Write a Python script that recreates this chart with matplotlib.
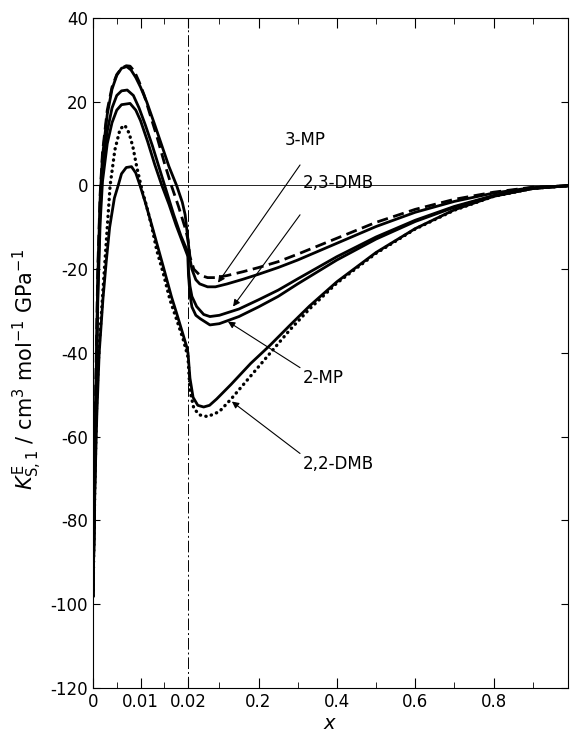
import numpy as np
import matplotlib
matplotlib.use("Agg")
import matplotlib.pyplot as plt
from matplotlib.ticker import FixedLocator, FixedFormatter

# piecewise x axis: 0..0.02 stretched, 0.02..1 compressed
BREAK = 0.02
LEFT_W = 95.0
RIGHT_K = 391.8


def fwd(x):
    x = np.asarray(x, dtype=float)
    return np.where(x <= BREAK, x / BREAK * LEFT_W, LEFT_W + (x - BREAK) * RIGHT_K)


def inv(u):
    u = np.asarray(u, dtype=float)
    return np.where(u <= LEFT_W, u / LEFT_W * BREAK, BREAK + (u - LEFT_W) / RIGHT_K)


# curves
x_3mp = [0, 0.0003, 0.0006, 0.001, 0.0015, 0.002, 0.003, 0.004, 0.005, 0.006, 0.007, 0.0078,
         0.0087, 0.0097, 0.0108, 0.012, 0.0135, 0.015, 0.0165, 0.018, 0.0195, 0.02,
         0.025, 0.035, 0.05, 0.07, 0.09, 0.12, 0.16, 0.2, 0.25, 0.3, 0.4, 0.5, 0.6, 0.7, 0.8, 0.9, 1.0]
y_3mp = [-98, -72, -46, -20, -2, 8, 18, 23.5, 26.5, 28, 28.6, 28.5,
         27.3, 24.8, 21.5, 17, 11.5, 5.5, 0, -5, -10.5, -13,
         -17, -20, -21.4, -22, -22, -21.5, -20.6, -19.6, -18.2, -16.4, -12.6, -8.8, -5.7, -3.3, -1.6, -0.4, 0]

x_s1 = [0, 0.0003, 0.0006, 0.001, 0.0015, 0.002, 0.003, 0.004, 0.005, 0.006, 0.0071,
        0.008, 0.009, 0.010, 0.0113, 0.013, 0.0145, 0.016, 0.0176, 0.0188, 0.0194, 0.02,
        0.025, 0.03, 0.04, 0.05, 0.07, 0.09, 0.12, 0.16, 0.2, 0.25, 0.3, 0.4, 0.5, 0.6, 0.7, 0.8, 0.9, 1.0]
y_s1 = [-98, -75, -50, -22, -3, 7, 17, 23, 26.3, 28, 28.4,
        27.6, 25.8, 23.5, 20, 14.5, 9.5, 4.5, 0, -4, -7, -13,
        -17.5, -20, -22.5, -23.5, -24.2, -24.2, -23.5, -22.4, -21.2, -19.6, -17.8, -13.8, -9.8, -6.4, -3.8, -1.8, -0.5, 0]

x_s2 = [0, 0.0003, 0.0006, 0.001, 0.0015, 0.002, 0.003, 0.004, 0.005, 0.006, 0.0072,
        0.0085, 0.0097, 0.011, 0.0125, 0.014, 0.0155, 0.017, 0.0185, 0.02,
        0.021, 0.025, 0.03, 0.042, 0.06, 0.076, 0.1, 0.15, 0.2, 0.25, 0.3, 0.4, 0.5, 0.6, 0.7, 0.8, 0.9, 1.0]
y_s2 = [-98, -76, -52, -25, -6, 4, 13, 18.5, 21.5, 22.6, 22.8,
        21.5, 18.5, 14.5, 9.5, 4, -1.5, -7, -12, -16,
        -20, -24, -26.5, -28.9, -30.8, -31.3, -31, -29.5, -27.3, -25, -22.3, -17, -12.3, -8.3, -5, -2.4, -0.7, 0]

x_s3 = [0, 0.0003, 0.0006, 0.001, 0.0015, 0.002, 0.003, 0.004, 0.005, 0.006, 0.0078,
        0.009, 0.010, 0.0115, 0.013, 0.0145, 0.016, 0.0175, 0.019, 0.02,
        0.021, 0.025, 0.03, 0.04, 0.051, 0.076, 0.1, 0.15, 0.2, 0.25, 0.3, 0.4, 0.5, 0.6, 0.7, 0.8, 0.9, 1.0]
y_s3 = [-98, -77, -54, -28, -9, 1, 10, 15, 18, 19.3, 19.6,
        18, 15.5, 10.5, 5, 0, -4.5, -9.5, -14, -17,
        -21, -26, -29, -31, -31.8, -33.3, -33, -31.3, -29, -26.5, -23.5, -17.8, -12.8, -8.6, -5.2, -2.5, -0.7, 0]

x_22s = [0, 0.0004, 0.0008, 0.0013, 0.0021, 0.0028, 0.0035, 0.0045, 0.0053, 0.006, 0.007, 0.0081,
         0.009, 0.0099, 0.011, 0.0125, 0.0148, 0.0165, 0.0176, 0.0188, 0.0197, 0.02,
         0.025, 0.033, 0.045, 0.06, 0.075, 0.093, 0.13, 0.18, 0.229, 0.28, 0.33, 0.4, 0.5, 0.6, 0.7, 0.8, 0.9, 1.0]
y_22s = [-98, -72, -55, -40, -27, -18, -10, -3, 0, 2.8, 4.3, 4.5,
         3, 0, -4, -10, -19.4, -26.5, -30.5, -35, -38.4, -40,
         -46, -50.6, -52.5, -52.9, -52.5, -51, -47.5, -42.5, -38.2, -33.4, -28.8, -23, -16, -10.3, -5.8, -2.6, -0.7, 0]

x_22d = [0, 0.0004, 0.0008, 0.0013, 0.0018, 0.0024, 0.003, 0.0036, 0.0046, 0.0057, 0.0067,
         0.0076, 0.0084, 0.0092, 0.0103, 0.0113, 0.0124, 0.0134, 0.0148, 0.0162, 0.0176, 0.019, 0.02,
         0.025, 0.035, 0.05, 0.07, 0.1, 0.13, 0.18, 0.23, 0.28, 0.33, 0.4, 0.5, 0.6, 0.7, 0.8, 0.9, 1.0]
y_22d = [-98, -70, -50, -38, -30, -20, -10, 0, 8.5, 13.5, 14.4,
         12.5, 9.2, 4.5, -1, -5, -10, -15.4, -21, -27.3, -32, -36.8, -41,
         -49, -53.3, -54.8, -55.2, -54, -51, -45.5, -40, -34.5, -29.5, -23.3, -16.2, -10.4, -5.9, -2.6, -0.7, 0]

# annotation labels: text position, arrow tail, arrow tip
labels = ["3-MP", "2,3-DMB", "2-MP", "2,2-DMB"]
text_xy = [(0.268, 10.8), (0.313, 0.6), (0.313, -45.9), (0.313, -66.6)]
tail_xy = [(0.306, 4.9), (0.306, -7.0), (0.306, -43.5), (0.306, -64.0)]
tip_xy = [(0.0966, -23.2), (0.135, -28.9), (0.122, -32.5), (0.132, -51.6)]

major_x = [0, 0.01, 0.02, 0.2, 0.4, 0.6, 0.8]
major_x_lbl = ["0", "0.01", "0.02", "0.2", "0.4", "0.6", "0.8"]
minor_x = [0.005, 0.015, 0.1, 0.3, 0.5, 0.7, 0.9]
yticks = [40, 20, 0, -20, -40, -60, -80, -100, -120]

plt.rcParams['font.family'] = ['DejaVu Sans']
fig = plt.figure(figsize=(5.71, 7.35), dpi=100)
ax = fig.add_axes([0.1629, 0.064, 0.8318, 0.9115])
ax.set_xscale('function', functions=(fwd, inv))
ax.set_xlim(0, 0.99)
ax.set_ylim(-120, 40)

ax.axhline(0, color='black', lw=0.6)
ax.axvline(BREAK, color='black', lw=0.7, ls=(0, (12, 3, 2, 3)))

ax.plot(x_3mp, y_3mp, color='black', lw=2, ls=(0, (4, 2)))
ax.plot(x_s1, y_s1, color='black', lw=2)
ax.plot(x_s2, y_s2, color='black', lw=2)
ax.plot(x_s3, y_s3, color='black', lw=2)
ax.plot(x_22s, y_22s, color='black', lw=2)
ax.plot(x_22d, y_22d, color='black', lw=2.4, ls=(0, (0.1, 1.6)), dash_capstyle='round')

for lab, txy, tl, tp in zip(labels, text_xy, tail_xy, tip_xy):
    ax.text(txy[0], txy[1], lab, fontsize=12, va='center', ha='left')
    ax.annotate('', xy=tp, xytext=tl,
                arrowprops=dict(arrowstyle='-|>', color='black', lw=0.8,
                                mutation_scale=10, shrinkA=0, shrinkB=0))

ax.xaxis.set_major_locator(FixedLocator(major_x))
ax.xaxis.set_major_formatter(FixedFormatter(major_x_lbl))
ax.xaxis.set_minor_locator(FixedLocator(minor_x))
ax.set_yticks(yticks)
ax.set_yticklabels([str(v) for v in yticks])
ax.tick_params(which='both', direction='in', top=True, right=True, labelsize=12)
ax.tick_params(which='major', length=7, width=0.8)
ax.tick_params(which='minor', length=4, width=0.6)
ax.tick_params(axis='y', which='major', length=5)
for s in ax.spines.values():
    s.set_linewidth(0.8)

ax.set_xlabel('$x$', fontsize=14, labelpad=2)
ax.set_ylabel(r'$K^{\mathrm{E}}_{\mathrm{S},1}$ / cm$^3$ mol$^{-1}$ GPa$^{-1}$', fontsize=15)
ax.yaxis.set_label_coords(-0.103, 0.475)

fig.savefig('out.png', dpi=100)
